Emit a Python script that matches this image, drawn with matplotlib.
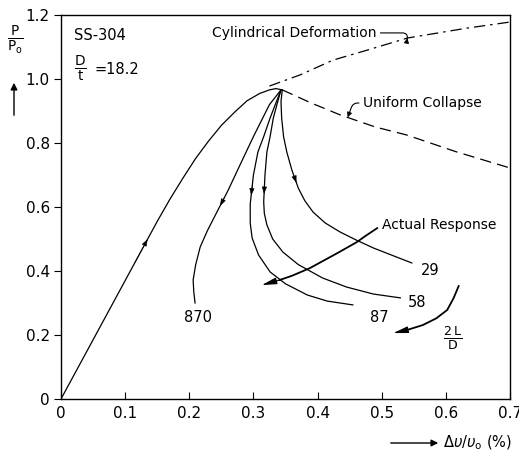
import matplotlib
matplotlib.use("Agg")
import matplotlib.pyplot as plt
from matplotlib.patches import FancyArrowPatch

# loading path up to the collapse point
load_x = [0.0, 0.05, 0.10, 0.15, 0.17, 0.19, 0.21, 0.23, 0.25, 0.27, 0.29, 0.31, 0.325, 0.335, 0.345]
load_y = [0.0, 0.185, 0.37, 0.555, 0.625, 0.69, 0.752, 0.806, 0.855, 0.895, 0.932, 0.955, 0.966, 0.970, 0.966]

# cylindrical deformation (dash-dot)
cyl_x = [0.325, 0.373, 0.424, 0.477, 0.54, 0.633, 0.70]
cyl_y = [0.978, 1.013, 1.059, 1.09, 1.128, 1.159, 1.178]

# uniform collapse (dashed)
uni_x = [0.345, 0.39, 0.435, 0.49, 0.539, 0.617, 0.70]
uni_y = [0.966, 0.925, 0.888, 0.85, 0.825, 0.772, 0.722]

# post-buckling responses for different 2L/D
resp = {
    "29": ([0.345, 0.343, 0.344, 0.347, 0.352, 0.36, 0.37, 0.38, 0.393, 0.412, 0.435, 0.46, 0.487, 0.515, 0.547],
           [0.966, 0.93, 0.878, 0.82, 0.772, 0.715, 0.659, 0.62, 0.584, 0.55, 0.522, 0.497, 0.472, 0.45, 0.425]),
    "58": ([0.343, 0.338, 0.331, 0.326, 0.321, 0.318, 0.316, 0.317, 0.321, 0.33, 0.346, 0.37, 0.408, 0.445, 0.487, 0.529],
           [0.966, 0.93, 0.878, 0.82, 0.772, 0.70, 0.616, 0.58, 0.544, 0.50, 0.459, 0.42, 0.378, 0.35, 0.328, 0.316]),
    "87": ([0.343, 0.336, 0.326, 0.316, 0.307, 0.30, 0.295, 0.295, 0.298, 0.308, 0.326, 0.35, 0.384, 0.415, 0.455],
           [0.966, 0.93, 0.878, 0.82, 0.772, 0.70, 0.609, 0.55, 0.503, 0.45, 0.397, 0.36, 0.325, 0.306, 0.294]),
    "870": ([0.343, 0.325, 0.30, 0.279, 0.26, 0.243, 0.228, 0.217, 0.21, 0.206, 0.207, 0.209],
            [0.966, 0.92, 0.82, 0.731, 0.65, 0.584, 0.525, 0.475, 0.42, 0.372, 0.335, 0.30]),
}
resp_labels = {"29": (0.575, 0.403), "58": (0.555, 0.303),
               "87": (0.497, 0.256), "870": (0.214, 0.256)}
arrow_idx = {"29": 6, "58": 6, "87": 6, "870": 5}

# actual response and 2L/D arrows
act_x = [0.493, 0.475, 0.461, 0.43, 0.388, 0.36, 0.341, 0.313]
act_y = [0.534, 0.51, 0.49, 0.455, 0.409, 0.385, 0.372, 0.356]
ld_x = [0.62, 0.612, 0.602, 0.585, 0.564, 0.54, 0.518]
ld_y = [0.353, 0.315, 0.278, 0.252, 0.231, 0.216, 0.206]

xticks = [0, 0.1, 0.2, 0.3, 0.4, 0.5, 0.6, 0.7]
xticklabels = ["0", "0.1", "0.2", "0.3", "0.4", "0.5", "0.6", "0.7"]
yticks = [0, 0.2, 0.4, 0.6, 0.8, 1.0, 1.2]
yticklabels = ["0", "0.2", "0.4", "0.6", "0.8", "1.0", "1.2"]

fig = plt.figure(figsize=(5.19, 4.62), dpi=100)
ax = fig.add_axes([61 / 519, 1 - 399 / 462, 449 / 519, 384 / 462])
lw = 0.9

def mark_arrow(xs, ys, i):
    # small arrowhead on a curve, pointing from point i-1 towards point i
    x0, y0 = xs[i - 1], ys[i - 1]
    x1, y1 = xs[i], ys[i]
    ax.annotate("", xy=(x0 + 0.7 * (x1 - x0), y0 + 0.7 * (y1 - y0)),
                xytext=(x0 + 0.3 * (x1 - x0), y0 + 0.3 * (y1 - y0)),
                arrowprops=dict(arrowstyle="-|>,head_length=0.55,head_width=0.2",
                                color="black", lw=0.4, mutation_scale=8,
                                shrinkA=0, shrinkB=0))

def big_arrow(xs, ys):
    ax.plot(xs[:-1], ys[:-1], color="black", lw=1.3)
    ax.annotate("", xy=(xs[-1], ys[-1]), xytext=(xs[-2], ys[-2]),
                arrowprops=dict(arrowstyle="-|>,head_length=0.9,head_width=0.2",
                                color="black", lw=0.8, mutation_scale=10,
                                shrinkA=0, shrinkB=0))

ax.plot(load_x, load_y, color="black", lw=lw)
mark_arrow(load_x, load_y, 3)
ax.plot(cyl_x, cyl_y, color="black", lw=lw, dashes=(9, 4, 2, 4))
ax.plot(uni_x, uni_y, color="black", lw=lw, dashes=(9, 5))

for k, (xs, ys) in resp.items():
    ax.plot(xs, ys, color="black", lw=lw)
    mark_arrow(xs, ys, arrow_idx[k])
    ax.text(*resp_labels[k], k, ha="center", va="center", fontsize=10.5)

big_arrow(act_x, act_y)
ax.text(0.5, 0.544, "Actual Response", ha="left", va="center", fontsize=10)

big_arrow(ld_x, ld_y)
ax.text(0.61, 0.19, r"$\frac{\mathrm{2\,L}}{\mathrm{D}}$", ha="center", va="center", fontsize=13)

# annotations of the limit curves
ax.annotate("Cylindrical Deformation", xy=(0.54, 1.128), xytext=(0.235, 1.144),
            ha="left", va="center", fontsize=10,
            arrowprops=dict(arrowstyle="-|>", color="black", lw=0.8, mutation_scale=7,
                            shrinkA=1, shrinkB=0,
                            connectionstyle="angle,angleA=0,angleB=80,rad=6"))
ax.annotate("Uniform Collapse", xy=(0.447, 0.88), xytext=(0.471, 0.925),
            ha="left", va="center", fontsize=10,
            arrowprops=dict(arrowstyle="-|>", color="black", lw=0.8, mutation_scale=7,
                            shrinkA=1, shrinkB=0,
                            connectionstyle="angle,angleA=180,angleB=70,rad=5"))

ax.text(0.02, 1.137, "SS-304", ha="left", va="center", fontsize=10.5)
ax.text(0.02, 1.03, r"$\frac{\mathrm{D}}{\mathrm{t}}$", ha="left", va="center", fontsize=14)
ax.text(0.052, 1.03, "=18.2", ha="left", va="center", fontsize=10.5)

ax.set_xlim(0, 0.7)
ax.set_ylim(0, 1.2)
ax.set_xticks(xticks)
ax.set_xticklabels(xticklabels)
ax.set_yticks(yticks)
ax.set_yticklabels(yticklabels)
ax.tick_params(axis="x", direction="in", length=5, pad=5, labelsize=11)
ax.tick_params(axis="y", direction="out", length=5, pad=3, labelsize=11)
for s in ax.spines.values():
    s.set_linewidth(1.0)

# axis labels with arrows
fig.text(15 / 519, 1 - 40 / 462, r"$\frac{\mathrm{P}}{\mathrm{P_o}}$", ha="center", va="center", fontsize=14)
fig.patches.append(FancyArrowPatch(
    (14 / 519, 1 - 118 / 462), (14 / 519, 1 - 80 / 462), transform=fig.transFigure,
    arrowstyle="-|>", mutation_scale=10, color="black", lw=1.0))
fig.patches.append(FancyArrowPatch(
    (388 / 519, 1 - 443 / 462), (441 / 519, 1 - 443 / 462), transform=fig.transFigure,
    arrowstyle="-|>", mutation_scale=10, color="black", lw=1.0))
fig.text(443 / 519, 1 - 443 / 462, r"$\Delta\upsilon/\upsilon_\mathrm{o}$ (%)",
         ha="left", va="center", fontsize=10.5)

fig.savefig("out.png", dpi=100, facecolor="white")
